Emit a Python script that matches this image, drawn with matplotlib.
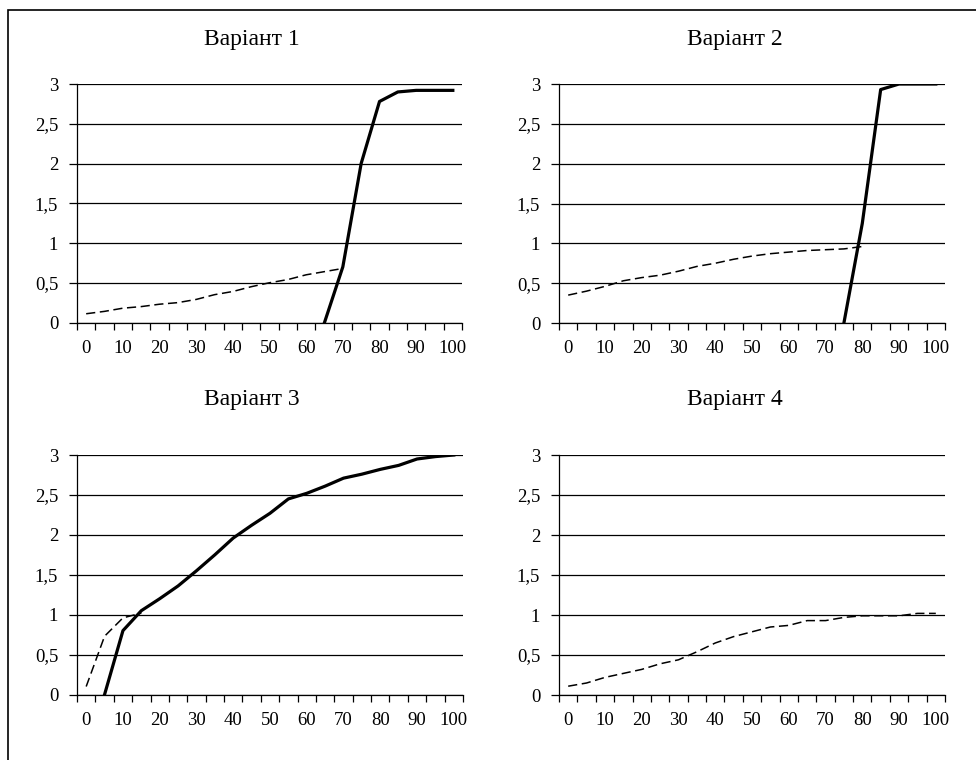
import matplotlib
matplotlib.use("Agg")
import matplotlib.pyplot as plt
from matplotlib.patches import Rectangle

plt.rcParams['font.family'] = ['Liberation Serif', 'DejaVu Serif']

# categories (x axis) and tick labels
categories = [0, 5, 10, 15, 20, 25, 30, 35, 40, 45, 50, 55, 60, 65, 70, 75, 80, 85, 90, 95, 100]
x_labels = [0, 10, 20, 30, 40, 50, 60, 70, 80, 90, 100]
y_ticks = [0, 0.5, 1, 1.5, 2, 2.5, 3]
y_labels = ['0', '0,5', '1', '1,5', '2', '2,5', '3']
titles = ['Варіант 1', 'Варіант 2', 'Варіант 3', 'Варіант 4']

# Варіант 1
v1_dash_x = [0, 5, 10, 15, 20, 25, 30, 35, 40, 45, 50, 55, 60, 65, 70]
v1_dash_y = [0.11, 0.14, 0.18, 0.20, 0.23, 0.25, 0.29, 0.35, 0.39, 0.45, 0.50, 0.54, 0.60, 0.64, 0.68]
v1_solid_x = [65, 70, 75, 80, 85, 90, 95, 100]
v1_solid_y = [0, 0.70, 2.00, 2.78, 2.90, 2.92, 2.92, 2.92]

# Варіант 2
v2_dash_x = [0, 5, 10, 15, 20, 25, 30, 35, 40, 45, 50, 55, 60, 65, 70, 75, 80]
v2_dash_y = [0.35, 0.40, 0.46, 0.53, 0.57, 0.60, 0.65, 0.71, 0.75, 0.80, 0.84, 0.87, 0.89, 0.91, 0.92, 0.93, 0.96]
v2_solid_x = [75, 80, 85, 90, 95, 100]
v2_solid_y = [0, 1.25, 2.93, 3.0, 3.0, 3.0]

# Варіант 3
v3_dash_x = [0, 5, 10, 15]
v3_dash_y = [0.10, 0.73, 0.96, 1.02]
v3_solid_x = [5, 10, 15, 20, 25, 30, 35, 40, 45, 50, 55, 60, 65, 70, 75, 80, 85, 90, 95, 100]
v3_solid_y = [0, 0.80, 1.05, 1.20, 1.36, 1.55, 1.75, 1.96, 2.12, 2.27, 2.45, 2.52, 2.61, 2.71, 2.76,
              2.82, 2.87, 2.95, 2.98, 3.0]

# Варіант 4
v4_dash_x = [0, 5, 10, 15, 20, 25, 30, 35, 40, 45, 50, 55, 60, 65, 70, 75, 80, 85, 90, 95, 100]
v4_dash_y = [0.11, 0.15, 0.22, 0.27, 0.32, 0.39, 0.44, 0.54, 0.65, 0.73, 0.79, 0.85, 0.87, 0.93, 0.93,
             0.97, 0.99, 0.99, 0.99, 1.02, 1.02]

series = [
    (v1_dash_x, v1_dash_y, v1_solid_x, v1_solid_y),
    (v2_dash_x, v2_dash_y, v2_solid_x, v2_solid_y),
    (v3_dash_x, v3_dash_y, v3_solid_x, v3_solid_y),
    (v4_dash_x, v4_dash_y, None, None),
]

W, H = 976, 760
fig = plt.figure(figsize=(W / 100, H / 100), dpi=100)

# plot areas in pixels: left, right, top, bottom
boxes = [(77, 462, 84, 322.5), (559, 945, 84, 323), (77, 463, 455, 694.5), (559, 945, 455, 695)]
title_pos = [(252, 39), (735, 39), (252, 400), (735, 400)]

step = categories[1] - categories[0]
bounds = [c - step / 2 for c in categories] + [categories[-1] + step / 2]

for i, (l, r, t, b) in enumerate(boxes):
    ax = fig.add_axes([l / W, 1 - b / H, (r - l) / W, (b - t) / H])
    dx, dy, sx, sy = series[i]
    ax.plot(dx, dy, color='black', lw=1.1, dashes=(6, 3), zorder=3)
    if sx is not None:
        ax.plot(sx, sy, color='black', lw=2.3, solid_joinstyle='round', zorder=4)

    ax.set_xlim(bounds[0], bounds[-1])
    ax.set_ylim(0, 3)
    ax.set_xticks(x_labels)
    ax.set_xticklabels([str(v) for v in x_labels], fontsize=13.5)
    ax.set_xticks(bounds, minor=True)
    ax.tick_params(axis='x', which='major', length=0, pad=12.5)
    ax.tick_params(axis='x', which='minor', length=5, width=0.9, direction='out')
    ax.set_yticks(y_ticks)
    ax.set_yticklabels(y_labels, fontsize=13.5)
    ax.tick_params(axis='y', length=6, width=0.9, direction='out', pad=7.5)
    ax.grid(axis='y', color='black', lw=0.9)
    ax.set_axisbelow(True)
    for side in ['top', 'right']:
        ax.spines[side].set_visible(False)
    for side in ['left', 'bottom']:
        ax.spines[side].set_linewidth(0.9)
    ax.spines['bottom'].set_zorder(5)

    tx, ty = title_pos[i]
    fig.text(tx / W, 1 - ty / H, titles[i], ha='center', va='center', fontsize=17)

# outer frame (right and bottom edges run off the picture)
fig.patches.append(Rectangle((8 / W, -0.1), 1.2, 1.1 - 10 / H, fill=False, lw=1.2,
                             edgecolor='black', transform=fig.transFigure))

fig.savefig('out.png', dpi=100)
